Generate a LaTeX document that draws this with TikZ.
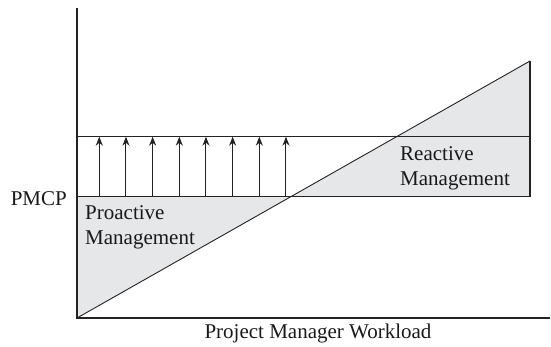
\documentclass[tikz,border=0pt]{standalone}
\usepackage{fontspec}
\setmainfont{Liberation Serif}
\usetikzlibrary{arrows.meta}
\definecolor{myline}{RGB}{35,35,35}
\definecolor{myshade}{RGB}{230,231,233}
\tikzset{
  axisline/.style={line width=1.4pt, color=myline},
  gridline/.style={line width=1.1pt, color=myline},
  slope/.style={line width=0.9pt, color=myline},
  shade/.style={fill=myshade, draw=none},
  uparrow/.style={-{Stealth[length=9pt, width=7pt]}, line width=1pt, color=myline},
  lbl/.style={font=\fontsize{21}{25}\selectfont, inner sep=0pt, text=black!90}
}
\begin{document}
\begin{tikzpicture}[x=1pt, y=1pt]
  \useasboundingbox (0,0) rectangle (551,347);
  % corner points
  \coordinate (origin) at (77,29);
  \coordinate (ytop) at (77,339);
  \coordinate (xend) at (550,29);
  \coordinate (pmcpL) at (77,150.3);
  \coordinate (pmcpR) at (530,150.3);
  \coordinate (capL) at (77,210.3);
  \coordinate (capR) at (530,210.3);
  \coordinate (peak) at (530,286);
  \coordinate (cross) at (290.8,150.3);

  % shaded regions
  \fill[shade] (pmcpL) -- (cross) -- (origin) -- cycle;
  \fill[shade] (cross) -- (pmcpR) -- (peak) -- cycle;

  % arrows
  \foreach \i in {0,...,7}
    \draw[uparrow] (99.3+26.67*\i,150.3) -- (99.3+26.67*\i,210.3);

  % lines
  \draw[gridline] (capL) -- (capR);
  \draw[gridline] (pmcpL) -- (pmcpR);
  \draw[gridline] (pmcpR) -- (peak);
  \draw[slope] (origin) -- (peak);
  \draw[axisline] (ytop) -- (origin) -- (xend);

  % labels
  \node[lbl, anchor=base east] (pmcp) at (67,141) {PMCP};
  \node[lbl, anchor=north west, align=left] (proactive) at (85,142) {Proactive\\Management};
  \node[lbl, anchor=north west, align=left] (reactive) at (400,200.3) {Reactive\\Management};
  \node[lbl, anchor=base] (workload) at (318,8) {Project Manager Workload};
\end{tikzpicture}
\end{document}
